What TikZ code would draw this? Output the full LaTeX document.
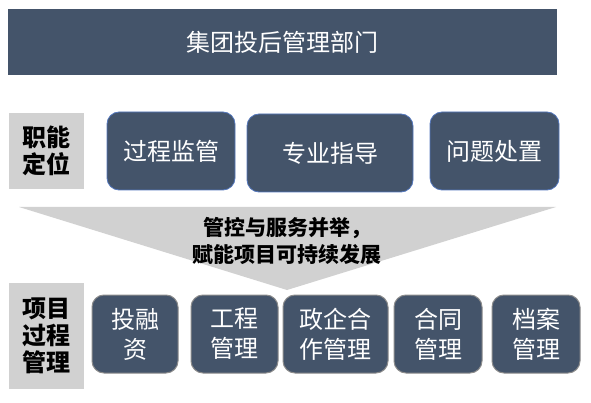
\documentclass[tikz,border=0pt]{standalone}
\usepackage{fontspec}
\newfontfamily\cjk{Noto Sans CJK SC}
\definecolor{BoxClr}{rgb}{0.267,0.329,0.416}
\definecolor{LineClr}{rgb}{0.33,0.47,0.74}
\definecolor{EdgeClr}{rgb}{0.55,0.55,0.55}
\definecolor{ShadeClr}{rgb}{0.82,0.82,0.82}

\begin{document}
\begin{tikzpicture}[x=1pt,y=-1pt,
  bar/.style={fill=BoxClr,text=white,inner sep=0pt,font=\cjk\fontsize{24}{30}\selectfont},
  tag/.style={fill=ShadeClr,inner sep=0pt,align=center,font=\cjk\bfseries\fontsize{24}{27}\selectfont},
  duty/.style={fill=BoxClr,draw=LineClr,line width=.8pt,rounded corners=12pt,text=white,inner sep=0pt,minimum height=78pt,font=\cjk\fontsize{24}{30}\selectfont},
  task/.style={fill=BoxClr,draw=EdgeClr,line width=1pt,rounded corners=12pt,text=white,inner sep=0pt,minimum height=78pt,align=center,font=\cjk\fontsize{24}{30}\selectfont}]
\useasboundingbox (0,0) rectangle (591,403);

\node[bar,minimum width=549pt,minimum height=66pt] (dept) at (282.5,42) {集团投后管理部门};

\node[tag,minimum width=75pt,minimum height=76pt] (role) at (46.5,151) {职能\\定位};
\node[duty,minimum width=128pt] (watch) at (171,151) {过程监管};
\node[duty,minimum width=166pt] (guide) at (330,153) {专业指导};
\node[duty,minimum width=129pt] (solve) at (494.5,151) {问题处置};

\fill[ShadeClr] (19,207) -- (556,207) -- (287,290) -- cycle;
\node[align=center,inner sep=0pt,font=\cjk\bfseries\fontsize{21}{27}\selectfont] (motto) at (287,241) {管控与服务并举，\\赋能项目可持续发展};

\node[tag,minimum width=75pt,minimum height=106pt] (proc) at (46.5,336) {项目\\过程\\管理};
\node[task,minimum width=86pt] (fund) at (135,334) {投融\\资};
\node[task,minimum width=87pt] (build) at (234.5,334) {工程\\管理};
\node[task,minimum width=105pt] (gov) at (335.5,334) {政企合\\作管理};
\node[task,minimum width=88pt] (deal) at (438,334) {合同\\管理};
\node[task,minimum width=88pt] (file) at (536,334) {档案\\管理};

\end{tikzpicture}
\end{document}
